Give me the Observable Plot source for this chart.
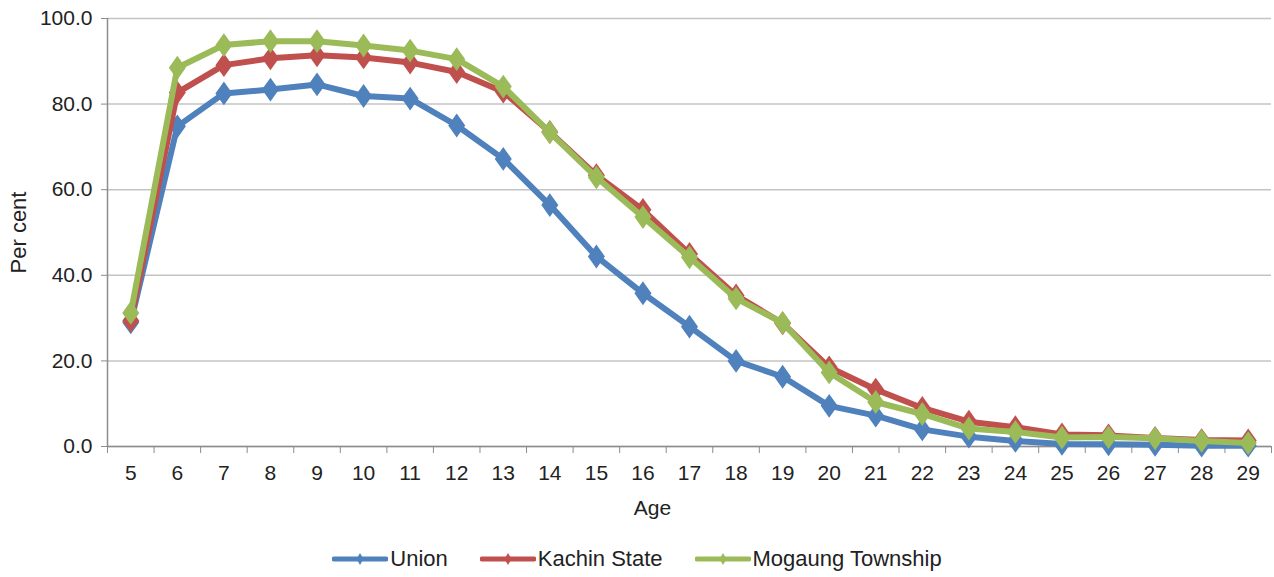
<!DOCTYPE html>
<html>
<head>
<meta charset="utf-8">
<script src="https://cdn.jsdelivr.net/npm/d3@7"></script>
<script src="https://cdn.jsdelivr.net/npm/@observablehq/plot@0.6"></script>
<style>
  html, body { margin: 0; padding: 0; background: #fff; }
  #chart { width: 1274px; }
  #legend { display: flex; justify-content: center; align-items: center; height: 37px;
    font-family: "Liberation Sans", Arial, sans-serif; font-size: 22px; color: #222; }
  .item { display: flex; align-items: center; margin: 0 16px; }
  .item svg { margin-right: 2px; }
</style>
</head>
<body>
<div id="chart"></div>
<div id="legend"></div>
<script>
const ages = [5,6,7,8,9,10,11,12,13,14,15,16,17,18,19,20,21,22,23,24,25,26,27,28,29];
const union = [29.0, 74.8, 82.5, 83.4, 84.6, 81.9, 81.3, 75.0, 67.2, 56.4, 44.4, 35.8, 28.0, 20.0, 16.3, 9.5, 7.2, 4.0, 2.3, 1.3, 0.6, 0.5, 0.4, 0.2, 0.2];
const kachin = [29.4, 82.7, 89.1, 90.7, 91.4, 90.9, 89.7, 87.5, 82.9, 73.5, 63.4, 55.3, 45.0, 35.3, 28.8, 18.5, 13.3, 9.0, 5.8, 4.5, 2.8, 2.6, 2.0, 1.5, 1.4];
const mogaung = [31.2, 88.5, 93.8, 94.7, 94.7, 93.7, 92.5, 90.5, 84.1, 73.4, 62.9, 53.6, 44.2, 34.6, 28.9, 17.3, 10.4, 7.6, 4.2, 3.4, 2.1, 2.2, 1.9, 1.3, 0.8];
const seriesNames = ["Union", "Kachin State", "Mogaung Township"];
const seriesColors = ["#4f81bd", "#c0504d", "#9bbb59"];
const yTicks = [0, 20, 40, 60, 80, 100];

const seriesValues = [union, kachin, mogaung];
const boundaries = [...ages.map(a => a - 0.5), ages[ages.length - 1] + 0.5];

const diamond = {
  draw(ctx, size) {
    const s = Math.sqrt(size);
    const w = s * 0.5, h = s * 0.7;
    ctx.moveTo(0, -h); ctx.lineTo(w, 0); ctx.lineTo(0, h); ctx.lineTo(-w, 0); ctx.closePath();
  }
};

const seriesMarks = seriesValues.flatMap((vals, i) => {
  const data = ages.map((a, j) => ({age: a, value: vals[j]}));
  return [
    Plot.line(data, {x: "age", y: "value", stroke: seriesColors[i], strokeWidth: 6, strokeLinejoin: "round"}),
    Plot.dot(data, {x: "age", y: "value", symbol: diamond, r: 9.6, fill: seriesColors[i], stroke: "none"})
  ];
});

const font = "'Liberation Sans', Arial, sans-serif";
const chart = Plot.plot({
  width: 1274,
  height: 540,
  marginTop: 18,
  marginBottom: 94,
  marginLeft: 107,
  marginRight: 3,
  style: {fontFamily: font, fontSize: "21px", color: "#222", background: "#fff"},
  x: {type: "linear", domain: [4.5, 29.5]},
  y: {domain: [0, 100]},
  marks: [
    Plot.gridY(yTicks, {stroke: "#c4c4c4", strokeOpacity: 1, strokeWidth: 1.5}),
    Plot.ruleX([4.5], {stroke: "#8c8c8c", strokeWidth: 1.5}),
    Plot.ruleY([0], {stroke: "#8c8c8c", strokeWidth: 1.5}),
    Plot.axisY(yTicks, {tickFormat: d => d.toFixed(1), tickSize: 6, tickPadding: 9, stroke: "#8c8c8c", label: null, fontSize: 21}),
    Plot.axisX(boundaries, {tickFormat: () => "", tickSize: 7, stroke: "#8c8c8c", label: null}),
    Plot.axisX(ages, {tickSize: 0, tickPadding: 19, label: null, fontSize: 21}),
    Plot.text(["Per cent"], {frameAnchor: "left", textAnchor: "middle", dx: -89, rotate: -90, fontSize: 22, fill: "#222"}),
    Plot.text(["Age"], {frameAnchor: "bottom", dy: 68, dx: -37, fontSize: 21, fill: "#222"}),
    ...seriesMarks
  ]
});
document.getElementById("chart").appendChild(chart);

const legend = document.getElementById("legend");
seriesNames.forEach((name, i) => {
  const item = document.createElement("div");
  item.className = "item";
  item.innerHTML = `<svg width="56" height="14"><line x1="2" y1="7" x2="54" y2="7" stroke="${seriesColors[i]}" stroke-width="5" stroke-linecap="round"/><path d="M28,1 L31.5,7 L28,13 L24.5,7 Z" fill="${seriesColors[i]}"/></svg><span>${name}</span>`;
  legend.appendChild(item);
});
</script>
</body>
</html>
